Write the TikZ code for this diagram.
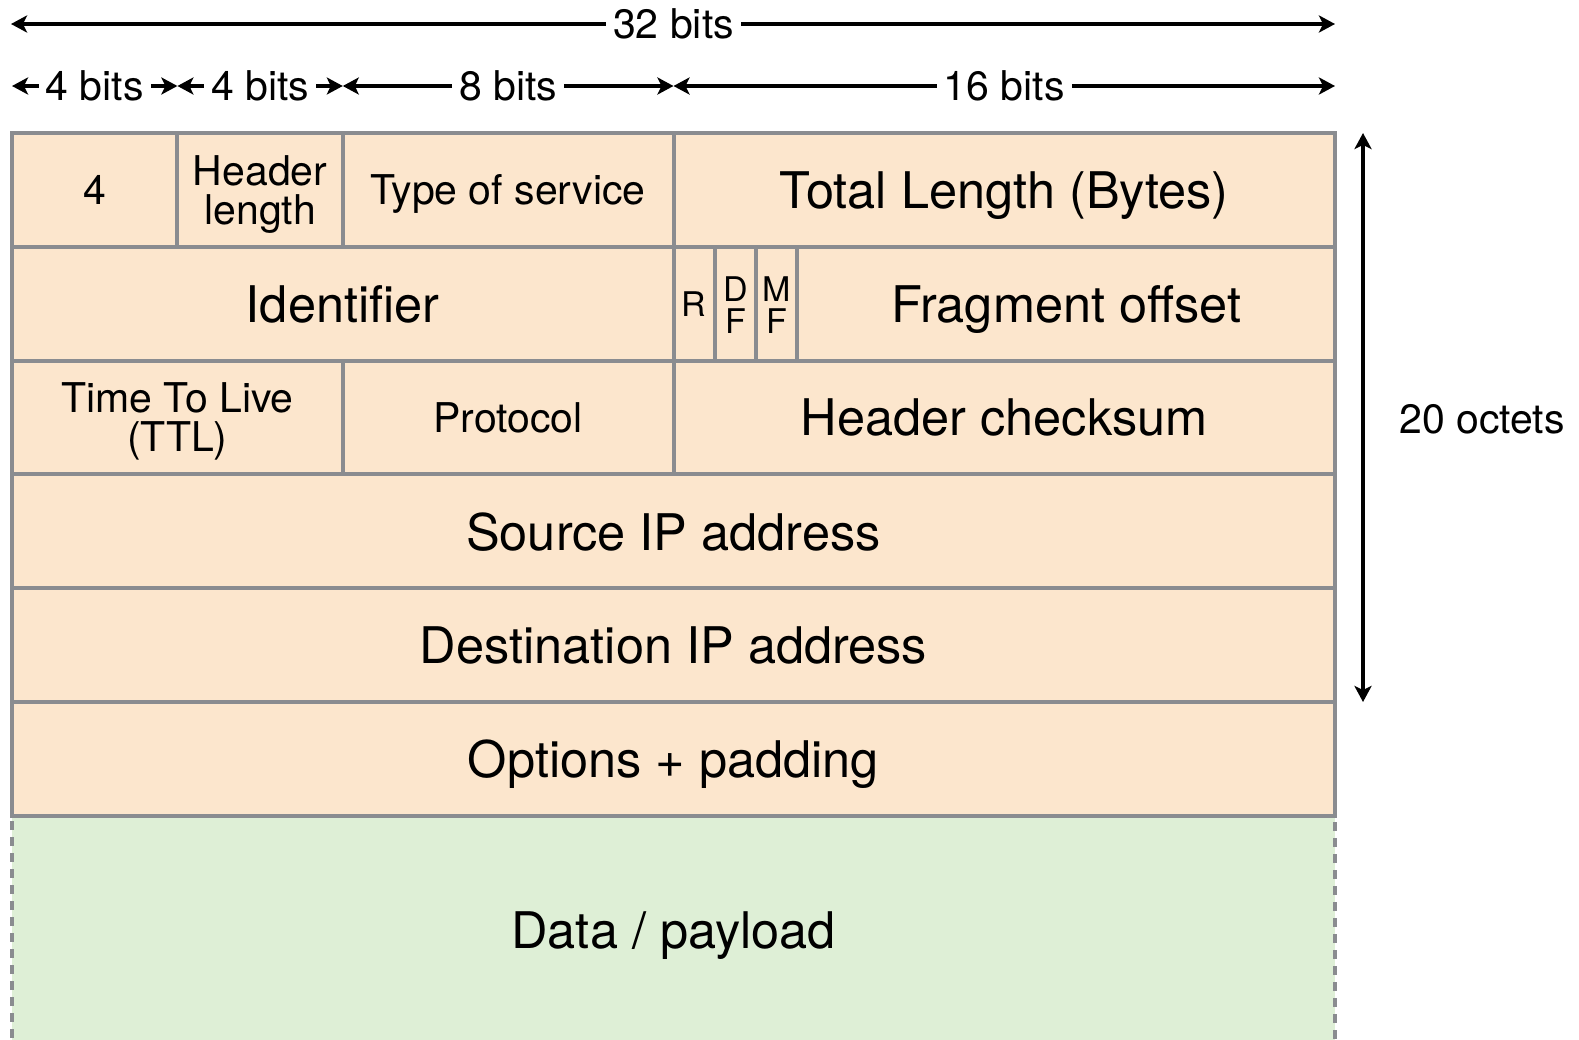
\documentclass[tikz,border=0pt]{standalone}
\usepackage{fontspec}
\setmainfont{TeX Gyre Heros}
\usetikzlibrary{arrows.meta}
\definecolor{cellfill}{HTML}{FCE6CD}
\definecolor{datafill}{HTML}{DEEFD6}
\definecolor{cellline}{HTML}{8A8C90}
% strut that lowers the first line of a two-line cell
\newcommand{\firstlinestrut}[1]{\rule{0pt}{#1}}
\begin{document}
\begin{tikzpicture}[x=1pt,y=-1pt,
  cell/.style={draw=cellline, line width=4pt, fill=cellfill, anchor=north west,
    inner sep=0pt, outer sep=0pt, align=center, minimum height=113.8pt},
  oneline/.style={text depth=0pt},
  bigtext/.style={font=\fontsize{50.5}{57}\selectfont, oneline},
  midtext/.style={font=\fontsize{41}{39}\selectfont},
  flagtext/.style={font=\fontsize{34}{31.7}\selectfont},
  dimarrow/.style={line width=3.5pt, -{Stealth[length=16pt,width=17pt,inset=4pt]}},
  dimboth/.style={line width=3.5pt, {Stealth[length=16pt,width=17pt,inset=4pt]}-{Stealth[length=16pt,width=17pt,inset=4pt]}},
  bitlabel/.style={midtext, oneline, inner xsep=7pt, inner ysep=0pt}]
\useasboundingbox (0,0) rectangle (1579,1039);
\clip (0,0) rectangle (1579,1039);

% payload area below the header
\node[cell, fill=datafill, dash pattern=on 9pt off 7pt, minimum width=1323pt,
  minimum height=228.4pt, bigtext] (data) at (12,815.8) {Data / payload};

% row 1
\node[cell, minimum width=165.4pt, midtext, oneline] (ver) at (12,133) {4};
\node[cell, minimum width=165.4pt, midtext] (hlen) at (177.4,133) {\firstlinestrut{39pt}Header\\length};
\node[cell, minimum width=330.7pt, midtext, oneline] (tos) at (342.8,133) {Type of service};
\node[cell, minimum width=661.5pt, bigtext] (tlen) at (673.5,133) {Total Length (Bytes)};

% row 2
\node[cell, minimum width=661.5pt, bigtext] (ident) at (12,246.8) {Identifier};
\node[cell, minimum width=41.3pt, flagtext, oneline] (rflag) at (673.5,246.8) {R};
\node[cell, minimum width=41.3pt, flagtext] (dflag) at (714.8,246.8) {\firstlinestrut{27.4pt}D\\F};
\node[cell, minimum width=41.3pt, flagtext] (mflag) at (756.1,246.8) {\firstlinestrut{27.4pt}M\\F};
\node[cell, minimum width=537.6pt, bigtext] (frag) at (797.4,246.8) {Fragment offset};

% row 3
\node[cell, minimum width=330.8pt, midtext] (ttl) at (12,360.6) {\firstlinestrut{37.5pt}Time To Live\\(TTL)};
\node[cell, minimum width=330.7pt, midtext, oneline] (proto) at (342.8,360.6) {Protocol};
\node[cell, minimum width=661.5pt, bigtext] (chk) at (673.5,360.6) {Header checksum};

% rows 4-6
\node[cell, minimum width=1323pt, bigtext] (src) at (12,474.4) {Source IP address};
\node[cell, minimum width=1323pt, bigtext] (dst) at (12,588.2) {Destination IP address};
\node[cell, minimum width=1323pt, bigtext] (opts) at (12,702) {Options + padding};

% bit-width dimensions
\coordinate (w32l) at (11,24);
\coordinate (w32r) at (1335,24);
\node[bitlabel] (b32) at (673.5,24) {32 bits};
\draw[dimarrow] (b32.west) -- (w32l);
\draw[dimarrow] (b32.east) -- (w32r);

\coordinate (t0) at (12,86);
\coordinate (t1) at (177.4,86);
\coordinate (t2) at (342.8,86);
\coordinate (t3) at (673.5,86);
\coordinate (t4) at (1335,86);
\node[bitlabel] (b4a) at (94.7,86) {4 bits};
\node[bitlabel] (b4b) at (260.1,86) {4 bits};
\node[bitlabel] (b8) at (508.2,86) {8 bits};
\node[bitlabel] (b16) at (1004.3,86) {16 bits};
\draw[dimarrow] (b4a.west) -- (t0);
\draw[dimarrow] (b4a.east) -- (t1);
\draw[dimarrow] (b4b.west) -- (t1);
\draw[dimarrow] (b4b.east) -- (t2);
\draw[dimarrow] (b8.west) -- (t2);
\draw[dimarrow] (b8.east) -- (t3);
\draw[dimarrow] (b16.west) -- (t3);
\draw[dimarrow] (b16.east) -- (t4);

% header size
\coordinate (vtop) at (1363,133);
\coordinate (vbot) at (1363,702);
\draw[dimboth] (vtop) -- (vbot);
\node[midtext, oneline, inner sep=0pt] (octets) at (1482,419) {20 octets};
\end{tikzpicture}
\end{document}
